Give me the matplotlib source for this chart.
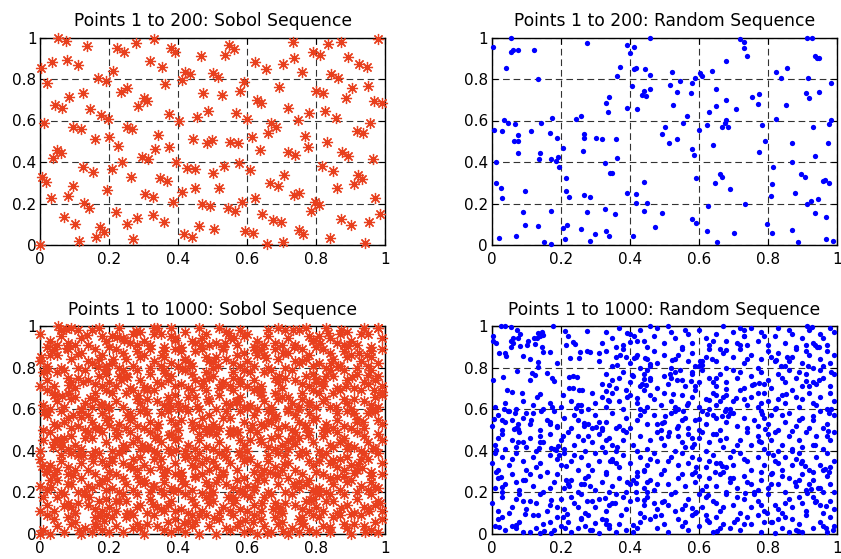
import matplotlib
matplotlib.use("Agg")
import matplotlib.pyplot as plt

plt.rcParams['font.family'] = ['DejaVu Sans']

# ---------------- data ----------------
# first 200 points
sobol200_x = [0.053,0.074,0.137,0.222,0.244,0.278,0.330,0.380,0.391,0.466,
0.002,0.034,0.077,0.111,0.211,0.169,0.191,0.319,0.353,0.420,
0.435,0.411,0.500,0.021,0.362,0.473,0.085,0.126,0.234,0.251,
0.300,0.309,0.043,0.065,0.145,0.176,0.198,0.285,0.375,0.404,
0.488,0.454,0.012,0.097,0.118,0.253,0.266,0.343,0.159,0.201,
0.443,0.498,
0.548,0.563,0.536,0.734,0.834,0.872,0.981,0.623,0.654,0.705,
0.737,0.792,0.812,0.894,0.925,0.947,0.515,0.760,0.844,0.865,
0.592,0.580,0.528,0.693,0.800,0.821,0.905,0.950,0.886,0.969,
0.990,0.628,0.641,0.718,0.567,0.599,0.749,0.780,0.826,0.857,
0.956,0.671,0.683,0.660,0.614,0.768,0.918,0.937,0.551,0.573,
0.831,
0.227,0.483,0.048,0.060,0.037,0.333,0.375,0.237,0.295,0.314,
0.394,0.124,0.155,0.208,0.005,0.017,0.263,0.348,0.367,0.425,
0.449,0.500,0.095,0.195,0.082,0.031,0.304,0.327,0.411,0.449,
0.386,0.128,0.143,0.220,0.070,0.101,0.251,0.282,0.328,0.359,
0.469,0.493,0.174,0.186,0.162,0.114,0.271,0.417,0.440,0.462,
0.000,0.505,
0.638,0.720,0.739,0.778,0.876,0.892,0.966,0.533,0.577,0.609,
0.708,0.816,0.850,0.921,0.932,0.911,0.519,0.667,0.689,0.735,
0.751,0.862,0.972,0.544,0.565,0.585,0.623,0.797,0.808,0.785,
0.644,0.676,0.698,0.873,0.901,0.953,0.985,0.594,0.618,0.751,
0.763,0.841,0.657,0.703,0.942]
sobol200_y = [1.000,0.985,0.959,0.948,0.932,0.975,0.991,0.951,0.932,0.911,
0.851,0.880,0.892,0.867,0.840,0.803,0.792,0.888,0.859,0.835,
0.822,0.795,0.827,0.782,0.774,0.734,0.715,0.731,0.739,0.755,
0.707,0.694,0.675,0.662,0.654,0.627,0.606,0.670,0.631,0.599,
0.647,0.615,0.586,0.570,0.561,0.570,0.557,0.530,0.509,0.522,
0.509,0.506,
0.964,0.943,0.916,0.980,0.967,0.980,0.991,0.884,0.847,0.872,
0.900,0.932,0.916,0.904,0.872,0.859,0.808,0.832,0.822,0.806,
0.787,0.744,0.723,0.760,0.744,0.734,0.755,0.766,0.710,0.694,
0.683,0.699,0.683,0.658,0.635,0.606,0.602,0.635,0.647,0.610,
0.589,0.586,0.567,0.541,0.522,0.523,0.551,0.538,0.498,0.490,
0.498,
0.479,0.490,0.458,0.442,0.418,0.463,0.474,0.402,0.426,0.414,
0.402,0.378,0.350,0.366,0.329,0.302,0.329,0.321,0.310,0.373,
0.365,0.349,0.284,0.265,0.238,0.225,0.244,0.233,0.257,0.273,
0.206,0.201,0.177,0.157,0.137,0.100,0.100,0.132,0.145,0.112,
0.196,0.188,0.088,0.061,0.040,0.019,0.029,0.051,0.040,0.093,
0.000,0.078,
0.458,0.447,0.434,0.474,0.450,0.429,0.413,0.382,0.394,0.361,
0.337,0.382,0.357,0.337,0.318,0.292,0.273,0.297,0.284,0.241,
0.252,0.273,0.228,0.177,0.164,0.209,0.225,0.209,0.193,0.164,
0.148,0.120,0.109,0.125,0.096,0.112,0.148,0.067,0.056,0.072,
0.051,0.032,0.003,0.016,0.008]

rand200_x = [0.003,0.055,0.055,0.061,0.076,0.122,0.042,0.135,0.277,
0.393,0.412,0.401,0.460,0.373,0.364,0.412,0.417,0.444,0.460,
0.407,0.441,0.458,0.435,0.447,0.340,0.332,0.336,0.393,0.420,
0.035,0.048,0.068,0.175,0.144,0.245,0.260,0.006,0.030,0.115,
0.077,0.064,0.077,0.168,0.190,0.267,0.267,0.303,0.320,0.361,
0.502,0.494,
0.719,0.731,0.731,0.739,0.678,0.913,0.927,0.936,0.943,0.948,
0.521,0.603,0.610,0.639,0.589,0.516,0.545,0.581,0.823,0.855,
0.839,0.915,0.984,0.538,0.578,0.650,0.911,0.919,0.949,0.755,
0.775,0.678,0.770,0.852,0.525,0.650,0.707,0.630,0.565,0.554,
0.623,0.601,0.678,0.675,0.667,0.685,0.784,0.823,0.984,0.977,
0.931,0.538,0.514,0.642,0.791,0.871,0.975,
0.076,0.013,0.137,0.139,0.171,0.187,0.193,0.196,0.207,0.264,
0.328,0.344,0.349,0.364,0.216,0.013,0.028,0.098,0.030,0.216,
0.223,0.267,0.284,0.393,0.417,0.417,0.441,0.449,0.090,0.171,
0.277,0.328,0.357,0.441,0.494,0.098,0.135,0.207,0.219,0.260,
0.332,0.340,0.301,0.071,0.023,0.151,0.172,0.212,0.284,0.409,
0.473,
0.581,0.586,0.774,0.936,0.871,0.815,0.591,0.661,0.666,0.646,
0.690,0.811,0.808,0.878,0.895,0.908,0.960,0.965,0.976,0.926,
0.944,0.912,0.734,0.627,0.581,0.591,0.798,0.936,0.968,0.623,
0.702,0.811,0.871,0.654,0.887,0.968,0.987]
rand200_y = [0.953,0.996,0.929,0.940,0.940,0.940,0.855,0.802,0.975,
0.964,0.953,0.924,1.000,0.859,0.814,0.847,0.851,0.847,0.819,
0.766,0.744,0.750,0.721,0.718,0.715,0.686,0.643,0.659,0.654,
0.602,0.590,0.583,0.610,0.590,0.606,0.622,0.554,0.549,0.549,
0.530,0.503,0.503,0.538,0.514,0.535,0.517,0.514,0.511,0.511,
0.567,0.533,
0.991,0.980,0.951,0.911,0.886,1.000,0.996,0.911,0.900,0.900,
0.835,0.830,0.814,0.840,0.806,0.771,0.790,0.779,0.835,0.851,
0.806,0.806,0.779,0.739,0.734,0.750,0.734,0.710,0.739,0.715,
0.728,0.699,0.680,0.675,0.675,0.670,0.654,0.643,0.622,0.590,
0.578,0.554,0.602,0.590,0.567,0.567,0.578,0.607,0.602,0.583,
0.567,0.509,0.490,0.482,0.503,0.493,0.493,
0.442,0.402,0.413,0.442,0.413,0.406,0.422,0.378,0.469,0.453,
0.394,0.349,0.349,0.418,0.325,0.297,0.273,0.262,0.225,0.262,
0.230,0.241,0.230,0.252,0.246,0.204,0.302,0.204,0.157,0.164,
0.157,0.172,0.148,0.164,0.153,0.096,0.092,0.084,0.096,0.077,
0.067,0.045,0.051,0.045,0.032,0.016,0.005,0.027,0.021,0.045,
0.085,
0.463,0.434,0.447,0.429,0.398,0.378,0.324,0.342,0.329,0.297,
0.268,0.292,0.238,0.252,0.341,0.329,0.308,0.313,0.297,0.214,
0.222,0.198,0.198,0.188,0.124,0.108,0.101,0.153,0.137,0.067,
0.056,0.056,0.072,0.016,0.016,0.027,0.021]

# points 201..1000 of the Sobol panel, estimated (percent units, x, y)
sobol_extra_pct = [
(1,2),(4,7),(7,1),(9,5),(2,9),(5,4),(8,8),(3,0),(10,6),(13,3),(16,8),(18,2),(12,0),(15,1),(19,9),(16,5),
(22,4),(25,8),(28,5),(20,1),(24,1),(27,9),(21,8),(29,3),(31,5),(33,9),(36,2),(39,7),(34,4),(37,6),(30,0),(38,1),
(43,6),(46,0),(40,3),(48,9),(42,1),(45,6),(49,4),(44,9),(54,3),(57,4),(51,0),(56,9),(59,1),(52,7),(55,2),(58,6),
(61,2),(64,7),(67,1),(69,5),(62,9),(65,4),(68,8),(63,0),(70,6),(73,3),(76,8),(78,2),(72,0),(75,1),(79,9),(76,5),
(82,4),(85,8),(88,5),(80,1),(84,1),(87,9),(81,8),(89,3),(91,5),(93,9),(96,2),(99,7),(94,4),(97,6),(90,0),(98,1),
(2,14),(5,18),(8,15),(0,11),(4,11),(7,19),(1,18),(9,13),(11,15),(13,19),(16,12),(19,17),(14,14),(17,16),(10,10),(18,11),
(23,16),(26,10),(20,13),(28,19),(22,11),(25,16),(29,14),(24,19),(34,13),(37,14),(31,10),(36,19),(39,11),(32,17),(35,12),(38,16),
(41,12),(44,17),(47,11),(49,15),(42,19),(45,14),(48,18),(43,10),(50,16),(53,13),(56,18),(58,12),(52,10),(55,11),(59,19),(56,15),
(62,14),(65,18),(68,15),(60,11),(64,11),(67,19),(61,18),(69,13),(71,15),(73,19),(76,12),(79,17),(74,14),(77,16),(70,10),(78,11),
(83,16),(86,10),(80,13),(88,19),(82,11),(85,16),(89,14),(84,19),(94,13),(97,14),(91,10),(96,19),(99,11),(92,17),(95,12),(98,16),
(3,26),(6,20),(0,23),(8,29),(2,21),(5,26),(9,24),(4,29),(14,23),(17,24),(11,20),(16,29),(19,21),(12,27),(15,22),(18,26),
(21,22),(24,27),(27,21),(29,25),(22,29),(25,24),(28,28),(23,20),(30,26),(33,23),(36,28),(38,22),(32,20),(35,21),(39,29),(36,25),
(42,24),(45,28),(48,25),(40,21),(44,21),(47,29),(41,28),(49,23),(51,25),(53,29),(56,22),(59,27),(54,24),(57,26),(50,20),(58,21),
(63,26),(66,20),(60,23),(68,29),(62,21),(65,26),(69,24),(64,29),(74,23),(77,24),(71,20),(76,29),(79,21),(72,27),(75,22),(78,26),
(81,22),(84,27),(87,21),(89,25),(82,29),(85,24),(88,28),(83,20),(90,26),(93,23),(96,28),(98,22),(92,20),(95,21),(99,29),(96,25),
(0,36),(3,33),(6,38),(8,32),(2,30),(5,31),(9,39),(6,35),(12,34),(15,38),(18,35),(10,31),(14,31),(17,39),(11,38),(19,33),
(21,35),(23,39),(26,32),(29,37),(24,34),(27,36),(20,30),(28,31),(33,36),(36,30),(30,33),(38,39),(32,31),(35,36),(39,34),(34,39),
(44,33),(47,34),(41,30),(46,39),(49,31),(42,37),(45,32),(48,36),(51,32),(54,37),(57,31),(59,35),(52,39),(55,34),(58,38),(53,30),
(60,36),(63,33),(66,38),(68,32),(62,30),(65,31),(69,39),(66,35),(72,34),(75,38),(78,35),(70,31),(74,31),(77,39),(71,38),(79,33),
(81,35),(83,39),(86,32),(89,37),(84,34),(87,36),(80,30),(88,31),(93,36),(96,30),(90,33),(98,39),(92,31),(95,36),(99,34),(94,39),
(1,45),(3,49),(6,42),(9,47),(4,44),(7,46),(0,40),(8,41),(13,46),(16,40),(10,43),(18,49),(12,41),(15,46),(19,44),(14,49),
(24,43),(27,44),(21,40),(26,49),(29,41),(22,47),(25,42),(28,46),(31,42),(34,47),(37,41),(39,45),(32,49),(35,44),(38,48),(33,40),
(40,46),(43,43),(46,48),(48,42),(42,40),(45,41),(49,49),(46,45),(52,44),(55,48),(58,45),(50,41),(54,41),(57,49),(51,48),(59,43),
(61,45),(63,49),(66,42),(69,47),(64,44),(67,46),(60,40),(68,41),(73,46),(76,40),(70,43),(78,49),(72,41),(75,46),(79,44),(74,49),
(84,43),(87,44),(81,40),(86,49),(89,41),(82,47),(85,42),(88,46),(91,42),(94,47),(97,41),(99,45),(92,49),(95,44),(98,48),(93,40),
(4,53),(7,54),(1,50),(6,59),(9,51),(2,57),(5,52),(8,56),(11,52),(14,57),(17,51),(19,55),(12,59),(15,54),(18,58),(13,50),
(20,56),(23,53),(26,58),(28,52),(22,50),(25,51),(29,59),(26,55),(32,54),(35,58),(38,55),(30,51),(34,51),(37,59),(31,58),(39,53),
(41,55),(43,59),(46,52),(49,57),(44,54),(47,56),(40,50),(48,51),(53,56),(56,50),(50,53),(58,59),(52,51),(55,56),(59,54),(54,59),
(64,53),(67,54),(61,50),(66,59),(69,51),(62,57),(65,52),(68,56),(71,52),(74,57),(77,51),(79,55),(72,59),(75,54),(78,58),(73,50),
(80,56),(83,53),(86,58),(88,52),(82,50),(85,51),(89,59),(86,55),(92,54),(95,58),(98,55),(90,51),(94,51),(97,59),(91,58),(99,53),
(1,62),(4,67),(7,61),(9,65),(2,69),(5,64),(8,68),(3,60),(10,66),(13,63),(16,68),(18,62),(12,60),(15,61),(19,69),(16,65),
(22,64),(25,68),(28,65),(20,61),(24,61),(27,69),(21,68),(29,63),(31,65),(33,69),(36,62),(39,67),(34,64),(37,66),(30,60),(38,61),
(43,66),(46,60),(40,63),(48,69),(42,61),(45,66),(49,64),(44,69),(54,63),(57,64),(51,60),(56,69),(59,61),(52,67),(55,62),(58,66),
(61,62),(64,67),(67,61),(69,65),(62,69),(65,64),(68,68),(63,60),(70,66),(73,63),(76,68),(78,62),(72,60),(75,61),(79,69),(76,65),
(82,64),(85,68),(88,65),(80,61),(84,61),(87,69),(81,68),(89,63),(91,65),(93,69),(96,62),(99,67),(94,64),(97,66),(90,60),(98,61),
(2,74),(5,78),(8,75),(0,71),(4,71),(7,79),(1,78),(9,73),(11,75),(13,79),(16,72),(19,77),(14,74),(17,76),(10,70),(18,71),
(23,76),(26,70),(20,73),(28,79),(22,71),(25,76),(29,74),(24,79),(34,73),(37,74),(31,70),(36,79),(39,71),(32,77),(35,72),(38,76),
(41,72),(44,77),(47,71),(49,75),(42,79),(45,74),(48,78),(43,70),(50,76),(53,73),(56,78),(58,72),(52,70),(55,71),(59,79),(56,75),
(62,74),(65,78),(68,75),(60,71),(64,71),(67,79),(61,78),(69,73),(71,75),(73,79),(76,72),(79,77),(74,74),(77,76),(70,70),(78,71),
(83,76),(86,70),(80,73),(88,79),(82,71),(85,76),(89,74),(84,79),(94,73),(97,74),(91,70),(96,79),(99,71),(92,77),(95,72),(98,76),
(3,86),(6,80),(0,83),(8,89),(2,81),(5,86),(9,84),(4,89),(14,83),(17,84),(11,80),(16,89),(19,81),(12,87),(15,82),(18,86),
(21,82),(24,87),(27,81),(29,85),(22,89),(25,84),(28,88),(23,80),(30,86),(33,83),(36,88),(38,82),(32,80),(35,81),(39,89),(36,85),
(42,84),(45,88),(48,85),(40,81),(44,81),(47,89),(41,88),(49,83),(51,85),(53,89),(56,82),(59,87),(54,84),(57,86),(50,80),(58,81),
(63,86),(66,80),(60,83),(68,89),(62,81),(65,86),(69,84),(64,89),(74,83),(77,84),(71,80),(76,89),(79,81),(72,87),(75,82),(78,86),
(81,82),(84,87),(87,81),(89,85),(82,89),(85,84),(88,88),(83,80),(90,86),(93,83),(96,88),(98,82),(92,80),(95,81),(99,89),(96,85),
(0,96),(3,93),(6,98),(8,92),(2,90),(5,91),(9,99),(6,95),(12,94),(15,98),(18,95),(10,91),(14,91),(17,99),(11,98),(19,93),
(21,95),(23,99),(26,92),(29,97),(24,94),(27,96),(20,90),(28,91),(33,96),(36,90),(30,93),(38,99),(32,91),(35,96),(39,94),(34,99),
(44,93),(47,94),(41,90),(46,99),(49,91),(42,97),(45,92),(48,96),(51,92),(54,97),(57,91),(59,95),(52,99),(55,94),(58,98),(53,90),
(60,96),(63,93),(66,98),(68,92),(62,90),(65,91),(69,99),(66,95),(72,94),(75,98),(78,95),(70,91),(74,91),(77,99),(71,98),(79,93),
(81,95),(83,99),(86,92),(89,97),(84,94),(87,96),(80,90),(88,91),(93,96),(96,90),(90,93),(98,99),(92,91),(95,96),(99,94),(94,99),
]

# points 201..1000 of the random panel, estimated (per mille units, x, y)
rand_extra_pm = [
(27,1000),(39,1000),(179,1000),(73,981),(83,962),(5,929),(13,917),(63,917),(56,901),(107,929),
(136,968),(145,973),(141,952),(150,957),(131,941),(126,913),(102,909),(145,901),(83,904),(23,869),
(39,869),(92,856),(150,873),(170,877),(110,840),(136,829),(191,821),(213,978),(220,952),(216,909),
(237,925),(242,913),(257,877),(276,881),(286,877),(228,848),(254,845),(310,869),(73,785),(116,772),
(126,764),(160,772),(3,740),(34,753),(112,740),(174,748),(181,737),(237,760),(247,753),(223,753),
(44,692),(58,684),(87,679),(141,673),(133,660),(223,700),(237,700),(252,692),(261,692),(208,668),
(290,679),
(10,40),(30,80),(40,20),(80,60),(90,10),(120,90),(130,30),(150,50),(180,20),(190,80),(220,60),(230,10),
(270,40),(280,90),(290,20),(320,70),(340,30),(370,50),(375,90),(410,10),(430,60),(440,80),(480,30),(500,50),
(510,10),(540,70),(570,20),(580,90),(600,40),(630,60),(640,10),(650,80),(690,30),(710,70),(720,20),(750,50),
(770,90),(780,10),(810,60),(840,30),(850,80),(860,10),(890,50),(910,90),(930,30),(950,60),(970,10),(980,80),
(60,40),(250,30),(460,70),(670,50),(880,20),(170,60),(390,20),(550,40),(790,60),(990,40),(110,10),(310,5),
(620,90),(820,5),(360,10),(740,80),(20,70),(70,30),(140,5),(200,40),(260,70),(330,50),(420,30),(490,90),
(560,60),(660,30),(730,50),(830,70),(900,10),(960,40),
(0,150),(20,110),(30,180),(60,130),(70,170),(100,120),(110,160),(140,190),(160,110),(170,140),(200,170),(210,120),
(240,150),(260,190),(270,100),(300,130),(310,170),(330,110),(350,150),(360,190),(390,120),(400,160),(430,100),(440,140),
(450,180),(480,120),(500,160),(520,190),(530,110),(560,140),(570,170),(590,100),(610,130),(620,180),(650,150),(660,110),
(680,190),(700,140),(720,100),(730,170),(750,130),(770,160),(790,110),(800,190),(820,140),(840,100),(860,170),(870,130),
(900,150),(910,110),(930,180),(950,140),(960,100),(980,160),(990,120),(50,100),(130,150),(190,130),(230,180),(290,160),
(340,140),(420,170),(470,150),(550,120),(600,190),(640,160),(710,180),(780,140),(830,120),(890,180),(940,160),(80,190),
(250,130),(380,180),(510,140),(670,130),(760,190),(850,150),
(10,220),(20,270),(40,240),(60,290),(80,210),(90,260),(120,230),(140,280),(150,200),(180,250),(190,290),(210,220),
(230,260),(250,200),(260,240),(280,280),(300,210),(320,250),(330,290),(350,230),(370,270),(390,200),(400,240),(420,280),
(440,220),(460,260),(470,210),(490,290),(510,240),(530,200),(540,270),(560,230),(580,290),(590,250),(610,210),(630,270),
(650,230),(660,290),(680,200),(690,250),(710,220),(730,280),(750,240),(760,200),(780,260),(800,220),(810,290),(830,240),
(850,200),(860,270),(880,230),(900,290),(910,210),(930,260),(950,220),(970,280),(980,240),(30,200),(110,290),(170,220),
(270,270),(340,200),(410,260),(480,240),(550,290),(620,230),(700,270),(770,210),(840,280),(920,240),(990,200),(70,250),
(220,240),(450,250),(600,280),(740,250),(890,260),(960,200),
(0,340),(20,310),(30,370),(50,330),(70,390),(90,350),(100,310),(120,370),(140,340),(160,300),(170,380),(200,330),
(210,390),(230,350),(250,310),(260,370),(280,330),(300,390),(310,350),(330,300),(350,360),(370,320),(380,380),(400,340),
(420,300),(430,370),(450,330),(470,390),(480,350),(500,310),(520,370),(540,330),(550,390),(570,340),(590,300),(600,360),
(620,320),(640,380),(650,340),(670,300),(690,370),(700,330),(720,390),(740,350),(750,310),(770,370),(790,330),(800,390),
(820,350),(840,310),(850,370),(870,330),(890,390),(900,350),(920,310),(940,370),(950,330),(970,390),(990,350),(60,360),
(130,320),(190,360),(240,380),(290,310),(360,340),(440,310),(510,350),(580,370),(630,350),(680,320),(730,360),(780,300),
(830,340),(880,360),(930,300),(980,320),(10,390),(460,360),
(10,430),(30,480),(40,410),(60,450),(80,490),(100,420),(110,460),(130,400),(150,440),(170,480),(180,410),(200,450),
(220,490),(240,430),(250,470),(270,400),(290,440),(310,480),(320,420),(340,460),(360,400),(380,450),(390,490),(410,430),
(430,470),(450,410),(460,450),(480,490),(500,430),(510,470),(530,400),(550,440),(570,480),(580,420),(600,460),(620,400),
(630,440),(650,480),(670,420),(680,460),(700,400),(720,450),(740,490),(750,430),(770,470),(790,410),(810,450),(820,490),
(840,430),(860,470),(870,410),(890,450),(910,490),(930,430),(940,470),(960,410),(980,450),(990,490),(20,460),(70,420),
(140,470),(210,410),(280,470),(350,430),(420,400),(490,460),(560,420),(610,490),(660,450),(710,430),(780,440),(830,400),
(900,420),(970,470),(90,440),(330,450),(540,470),(800,480),
(0,520),(20,570),(40,540),(50,590),(70,510),(90,560),(110,530),(120,580),(140,500),(160,550),(180,590),(190,520),
(210,560),(230,510),(250,550),(260,590),(280,530),(300,570),(320,500),(330,540),(350,580),(370,520),(390,560),(400,510),
(420,550),(440,590),(450,530),(470,570),(490,500),(500,540),(520,580),(540,520),(560,560),(570,510),(590,550),(610,590),
(620,530),(640,570),(660,500),(680,540),(690,580),(710,520),(730,560),(740,510),(760,550),(780,590),(800,530),(810,570),
(830,500),(850,540),(860,580),(880,520),(900,560),(920,510),(930,550),(950,590),(970,530),(990,570),(30,500),(100,580),
(170,530),(240,570),(310,540),(380,500),(430,570),(480,530),(550,550),(600,500),(650,560),(700,580),(770,520),(840,570),
(890,550),(960,510),(60,550),(290,510),(530,590),(790,560),
(10,610),(40,630),(70,600),(90,640),(120,620),(150,600),(170,630),(200,610),(230,640),(250,620),(280,600),(300,630),
(320,660),(330,610),(350,680),(370,640),(380,600),(400,670),(420,630),(440,690),(450,610),(470,650),(490,620),(500,680),
(520,640),(540,600),(550,670),(570,630),(590,690),(600,610),(620,650),(640,680),(650,620),(670,660),(690,600),(700,640),
(720,690),(740,620),(750,660),(770,610),(790,680),(800,640),(820,600),(840,670),(850,630),(870,690),(890,610),(900,650),
(920,680),(940,620),(950,660),(970,600),(990,640),(340,640),(390,690),(460,670),(530,610),(580,660),(630,600),(680,670),
(730,650),(780,630),(830,650),(880,660),(930,630),(980,680),(430,600),(660,640),
(320,720),(330,770),(350,740),(360,700),(380,780),(400,730),(410,760),(430,710),(450,790),(460,740),(480,700),(500,760),
(510,720),(530,780),(550,740),(560,710),(580,770),(600,730),(610,790),(630,750),(650,710),(660,770),(680,730),(700,790),
(710,750),(730,700),(750,760),(760,720),(780,780),(800,740),(810,700),(830,770),(850,730),(860,790),(880,750),(900,710),
(910,770),(930,730),(950,790),(960,750),(980,710),(990,770),(370,750),(440,770),(520,750),(590,710),(640,730),(720,780),
(790,720),(840,750),(890,780),(940,720),
(310,830),(330,880),(350,810),(360,850),(380,890),(400,820),(420,860),(430,800),(450,840),(470,880),(480,820),(500,860),
(520,800),(530,840),(550,890),(570,830),(580,870),(600,810),(620,850),(630,890),(650,830),(670,870),(680,800),(700,850),
(720,890),(730,820),(750,860),(770,800),(780,840),(800,880),(820,830),(830,870),(850,810),(870,850),(880,890),(900,820),
(920,860),(930,800),(950,840),(970,880),(980,820),(390,850),(460,810),(540,860),(610,830),(660,890),(740,840),(810,850),
(860,830),(910,880),(960,810),(990,860),
(320,920),(330,970),(350,940),(370,990),(380,910),(400,960),(420,930),(430,980),(450,900),(470,950),(480,990),(500,920),
(520,970),(530,940),(550,900),(570,960),(580,920),(600,980),(620,940),(630,910),(650,960),(670,1000),(680,930),(700,970),
(720,910),(730,950),(750,990),(770,930),(780,970),(800,910),(820,950),(830,990),(850,920),(870,960),(880,900),(900,940),
(920,980),(930,920),(950,960),(970,910),(980,990),(360,900),(440,930),(510,1000),(560,980),(640,930),(710,920),(790,950),
(860,980),(910,910),(960,940),(990,970),
]

sobol1000_x = sobol200_x + [p[0] / 100 for p in sobol_extra_pct]
sobol1000_y = sobol200_y + [p[1] / 100 for p in sobol_extra_pct]
rand1000_x = rand200_x + [p[0] / 1000 for p in rand_extra_pm]
rand1000_y = rand200_y + [p[1] / 1000 for p in rand_extra_pm]

titles = ["Points 1 to 200: Sobol Sequence", "Points 1 to 200: Random Sequence",
          "Points 1 to 1000: Sobol Sequence", "Points 1 to 1000: Random Sequence"]
ticks = [0, 0.2, 0.4, 0.6, 0.8, 1.0]
tick_labels = ["0", "0.2", "0.4", "0.6", "0.8", "1"]

# ---------------- figure ----------------
W, H = 841, 559
fig = plt.figure(figsize=(W / 100, H / 100), dpi=100)

def px_axes(x0, x1, ytop, ybot):
    return fig.add_axes([x0 / W, 1 - ybot / H, (x1 - x0) / W, (ybot - ytop) / H])

axes = [px_axes(40, 385, 37.5, 245), px_axes(491.5, 837, 37.5, 245),
        px_axes(40, 385, 326, 534), px_axes(491.5, 837, 326, 534)]

sobol_color = '#E8401E'
asterisk = (8, 2, 0)

data = [(sobol200_x, sobol200_y, 's'), (rand200_x, rand200_y, 'r'),
        (sobol1000_x, sobol1000_y, 's'), (rand1000_x, rand1000_y, 'r')]

for ax, (xs, ys, kind), title in zip(axes, data, titles):
    if kind == 's':
        ax.plot(xs, ys, linestyle='none', marker=asterisk, markersize=8,
                markeredgewidth=0.9, color=sobol_color, clip_on=False, zorder=3)
    else:
        ax.plot(xs, ys, linestyle='none', marker='o', markersize=3.8,
                markeredgewidth=0, color='#0000FF', clip_on=False, zorder=3)
    ax.set_xlim(0, 1)
    ax.set_ylim(0, 1)
    ax.set_xticks(ticks)
    ax.set_yticks(ticks)
    ax.set_xticklabels(tick_labels)
    ax.set_yticklabels(tick_labels)
    ax.tick_params(direction='in', length=4, width=0.8, top=True, right=True,
                   labelsize=11, colors='black')
    ax.tick_params(axis='x', pad=5)
    ax.tick_params(axis='y', pad=2.5)
    ax.grid(True, color='0.2', linewidth=0.8, linestyle=(0, (6, 3.5)))
    for sp in ax.spines.values():
        sp.set_linewidth(1.0)
        sp.set_color('black')
    ax.set_title(title, fontsize=12.3, pad=8)

fig.savefig("out.png", dpi=100)
